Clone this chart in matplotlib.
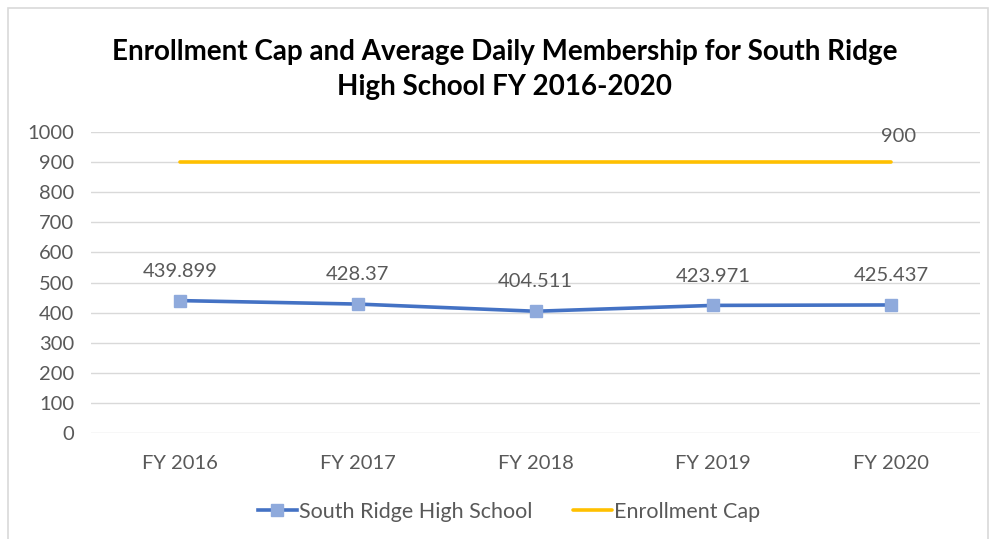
import matplotlib
matplotlib.use("Agg")
import matplotlib.pyplot as plt
from matplotlib.patches import Rectangle

plt.rcParams['font.family'] = ['Lato', 'DejaVu Sans']

years = ["FY 2016", "FY 2017", "FY 2018", "FY 2019", "FY 2020"]
membership = [439.899, 428.37, 404.511, 423.971, 425.437]
enrollment_cap = [900, 900, 900, 900, 900]

text_gray = "#595959"
grid_gray = "#D9D9D9"

fig = plt.figure(figsize=(9.94, 5.39), dpi=100)
ax = fig.add_axes([0.0915, 0.1967, 0.8945, 0.5583])

# frame round the whole chart
fig.patches.append(Rectangle((8 / 994, -0.01), 980 / 994, 1 - 8 / 539 + 0.01,
                             transform=fig.transFigure, fill=False,
                             edgecolor="#D9D9D9", linewidth=1.2))

x = list(range(len(years)))
ax.plot(x, membership, color="#4472C4", linewidth=2.6, marker="s",
        markersize=9, markerfacecolor="#8FAADC", markeredgecolor="#8FAADC",
        label="South Ridge High School", zorder=3)
ax.plot(x, enrollment_cap, color="#FFC000", linewidth=2.6,
        solid_capstyle="round", label="Enrollment Cap", zorder=3)

for xi, v in zip(x, membership):
    ax.annotate(f"{v:g}", (xi, v), xytext=(0, 15), textcoords="offset points",
                ha="center", va="bottom", fontsize=14.5, color=text_gray)
ax.annotate(f"{enrollment_cap[-1]:g}", (x[-1], enrollment_cap[-1]),
            xytext=(5, 12), textcoords="offset points",
            ha="center", va="bottom", fontsize=14.5, color=text_gray)

ax.set_xlim(-0.5, len(years) - 0.5)
ax.set_ylim(0, 1000)
ax.set_yticks(range(0, 1001, 100))
ax.set_xticks(x, years)
ax.tick_params(axis="both", length=0, labelsize=14.5, colors=text_gray)
ax.tick_params(axis="x", pad=16)
ax.tick_params(axis="y", pad=12)
ax.grid(axis="y", color=grid_gray, linewidth=1)
ax.set_axisbelow(True)
for s in ax.spines.values():
    s.set_visible(False)

fig.suptitle("Enrollment Cap and Average Daily Membership for South Ridge\nHigh School FY 2016-2020",
             x=0.508, y=0.928, fontsize=20, fontweight="bold", color="black",
             linespacing=1.45)

ax.legend(loc="center", bbox_to_anchor=(0.512, 1 - 512 / 539), bbox_transform=fig.transFigure,
          ncol=2, frameon=False, fontsize=15.5, labelcolor=text_gray,
          handlelength=1.8, handletextpad=0.1, columnspacing=1.9)

fig.savefig("out.png", dpi=100)
